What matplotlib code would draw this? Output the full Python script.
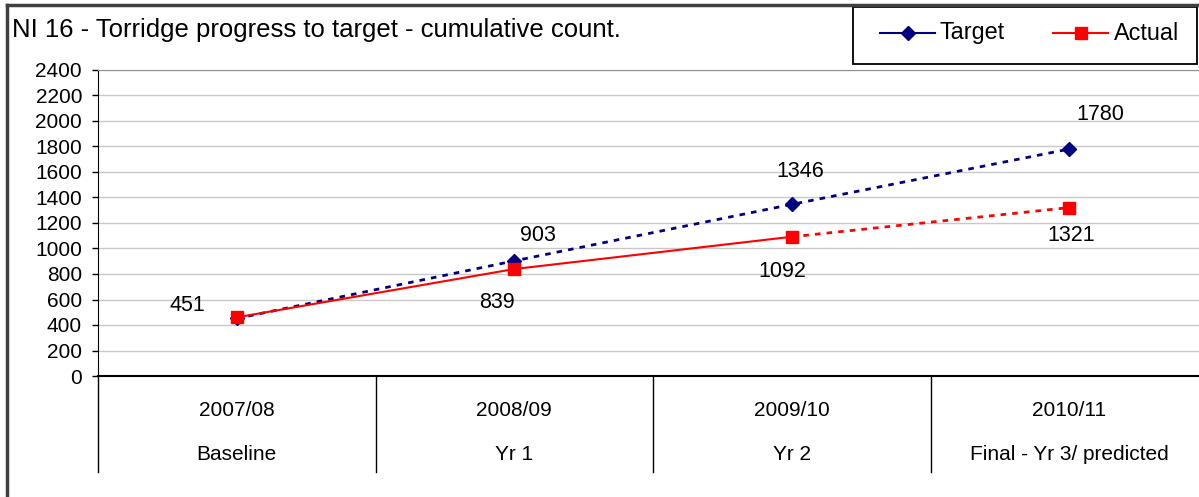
import matplotlib
matplotlib.use("Agg")
import matplotlib.pyplot as plt
from matplotlib.lines import Line2D
from matplotlib.patches import Rectangle
import matplotlib.transforms as mtransforms

plt.rcParams['font.family'] = ['Liberation Sans', 'DejaVu Sans']

years = ["2007/08", "2008/09", "2009/10", "2010/11"]
stages = ["Baseline", "Yr 1", "Yr 2", "Final - Yr 3/ predicted"]
target = [451, 903, 1346, 1780]
actual = [460, 839, 1092, 1321]
series_names = ["Target", "Actual"]
title = "NI 16 - Torridge progress to target - cumulative count."
yticks = list(range(0, 2401, 200))

W, H = 1199, 497
fig = plt.figure(figsize=(W / 100, H / 100), dpi=100)

def fx(px):
    return px / W

def fy(py):
    return 1 - py / H

# axes (extends past right edge like reference)
ax = fig.add_axes([fx(98), fy(376), fx(1208 - 98), (376 - 70) / H])
ax.set_xlim(-0.5, 3.5)
ax.set_ylim(0, 2400)
ax.set_yticks(yticks)
ax.set_yticklabels([str(v) for v in yticks], fontsize=15)
ax.tick_params(axis='y', direction='out', length=4.5, width=1, color='black', pad=7)
ax.set_xticks([])
ax.grid(axis='y', color='#c8c8c8', linewidth=1)
ax.set_axisbelow(True)
ax.spines['right'].set_visible(False)
ax.spines['top'].set_color('#909090')
ax.spines['left'].set_color('black')
ax.spines['bottom'].set_color('black')
ax.spines['bottom'].set_linewidth(1.5)

xs = list(range(len(years)))
navy = '#000080'
red = '#ff0000'

# Target: dotted line with diamonds
ax.plot(xs, target, color=navy, linewidth=2, dashes=(2, 2.2), zorder=3)
ax.plot(xs, target, linestyle='none', marker='D', markersize=7.5,
        color=navy, zorder=4, clip_on=False)
# Actual: solid for first three, dotted for last
ax.plot(xs[:3], actual[:3], color=red, linewidth=1.5, zorder=3)
ax.plot(xs[2:], actual[2:], color=red, linewidth=2, dashes=(2, 2.2), zorder=3)
ax.plot(xs, actual, linestyle='none', marker='s', markersize=8.5,
        color=red, zorder=5, clip_on=False)

# data labels
t_off = [(-49, 13), (24, 25), (8, 33), (31, 35)]
a_off = [None, (-17, -33), (-9, -35), (2, -28)]
for i, v in enumerate(target):
    ax.annotate(str(v), (xs[i], v), xytext=t_off[i], textcoords='offset pixels',
                ha='center', va='center', fontsize=15.5, color='black')
for i, v in enumerate(actual):
    if a_off[i] is None:
        continue
    ax.annotate(str(v), (xs[i], v), xytext=a_off[i], textcoords='offset pixels',
                ha='center', va='center', fontsize=15.5, color='black')

# category area below axis
trans = mtransforms.blended_transform_factory(ax.transData, ax.transAxes)
depth = (472 - 376) / (376 - 70)
for b in [-0.5, 0.5, 1.5, 2.5]:
    ax.add_line(Line2D([b, b], [0, -depth], transform=trans, color='black',
                       linewidth=1, clip_on=False))
row1 = -(410 - 376) / (376 - 70)
row2 = -(455 - 376) / (376 - 70)
for i in xs:
    ax.text(i, row1, years[i], transform=trans, ha='center', va='center', fontsize=15)
    ax.text(i, row2, stages[i], transform=trans, ha='center', va='center', fontsize=15)

# figure border (left & top)
fig.add_artist(Line2D([fx(7), fx(7)], [fy(5), 0], transform=fig.transFigure,
                      color='#404040', linewidth=2.5))
fig.add_artist(Line2D([fx(7), 1], [fy(5), fy(5)], transform=fig.transFigure,
                      color='#404040', linewidth=2.5))

# title
fig.text(fx(12), fy(37), title, ha='left', va='baseline', fontsize=18.5)

# legend (drawn manually to match reference box)
fig.add_artist(Rectangle((fx(853), fy(64)), fx(1197 - 853), (64 - 7) / H,
                         transform=fig.transFigure, facecolor='white',
                         edgecolor='black', linewidth=1.3))
leg_specs = [(880, 935, 940, navy, 'D', 7.5), (1053, 1108, 1114, red, 's', 8.5)]
for (x0, x1, xt, c, m, ms), name in zip(leg_specs, series_names):
    fig.add_artist(Line2D([fx(x0), fx(x1)], [fy(33), fy(33)], transform=fig.transFigure,
                          color=c, linewidth=1.5))
    fig.add_artist(Line2D([fx((x0 + x1) / 2)], [fy(33)], transform=fig.transFigure,
                          color=c, marker=m, markersize=ms, linestyle='none'))
    fig.text(fx(xt), fy(33), name, ha='left', va='center', fontsize=16.8)

fig.savefig("out.png", dpi=100)
